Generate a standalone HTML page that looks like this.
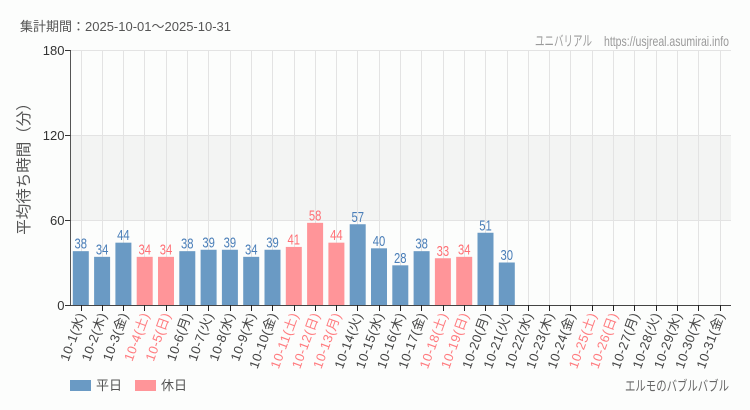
<!DOCTYPE html>
<html><head><meta charset="utf-8">
<style>
html,body{margin:0;padding:0;background:#fcfdfc;}
svg{display:block;}
text{font-family:"Liberation Sans","Noto Sans CJK JP",sans-serif;}
</style></head>
<body>
<svg width="750" height="410" viewBox="0 0 750 410" xmlns="http://www.w3.org/2000/svg">
<rect width="750" height="410" fill="#fcfdfc"/>
<text x="20" y="31" font-size="13" fill="#555">集計期間：2025-10-01〜2025-10-31</text>
<text x="535" y="46" font-size="14" fill="#9a9a9a" textLength="57" lengthAdjust="spacingAndGlyphs">ユニバリアル</text>
<text x="604" y="46" font-size="14" fill="#9a9a9a" textLength="125" lengthAdjust="spacingAndGlyphs">https://usjreal.asumirai.info</text>
<!-- band -->
<rect x="70.5" y="135" width="660.5" height="85" fill="#f3f4f3"/>
<g id="grid" stroke="#e3e3e3" stroke-width="1"></g>
<g id="bars"></g>
<g id="labels"></g>
<!-- axes -->
<line x1="70.5" y1="50" x2="70.5" y2="305.5" stroke="#555" stroke-width="1"/>
<line x1="70" y1="305.5" x2="731" y2="305.5" stroke="#444" stroke-width="1"/>
<g stroke="#333" stroke-width="1">
<line x1="65" y1="50.5" x2="70.5" y2="50.5"/>
<line x1="65" y1="135.5" x2="70.5" y2="135.5"/>
<line x1="65" y1="220.5" x2="70.5" y2="220.5"/>
<line x1="65" y1="305.5" x2="70.5" y2="305.5"/>
</g>
<g font-size="13" fill="#333" text-anchor="end">
<text x="64.5" y="55">180</text>
<text x="64.5" y="140">120</text>
<text x="64.5" y="225">60</text>
<text x="64.5" y="310">0</text>
</g>
<text transform="translate(29,165) rotate(-90)" font-size="15.5" fill="#555" text-anchor="middle">平均待ち時間（分）</text>
<g id="ticks" stroke="#222" stroke-width="1"></g>
<g id="xlabels" font-size="13"></g>
<!-- legend -->
<rect x="70" y="380" width="21" height="11" fill="#6a9ac4"/>
<text x="96" y="390" font-size="13" fill="#555">平日</text>
<rect x="135" y="380" width="21" height="11" fill="#ff9599"/>
<text x="161" y="390" font-size="13" fill="#555">休日</text>
<text x="625" y="391" font-size="14" fill="#666" textLength="104" lengthAdjust="spacingAndGlyphs">エルモのバブルバブル</text>
</svg>
<script>
(function(){
var ns="http://www.w3.org/2000/svg";
var data=[38,34,44,34,34,38,39,39,34,39,41,58,44,57,40,28,38,33,34,51,30];
var dow=["水","木","金","土","日","月","火","水","木","金","土","日","月","火","水","木","金","土","日","月","火","水","木","金","土","日","月","火","水","木","金"];
var hol={4:1,5:1,11:1,12:1,13:1,18:1,19:1,25:1,26:1};
var grid=document.getElementById("grid"),bars=document.getElementById("bars"),labels=document.getElementById("labels"),ticks=document.getElementById("ticks"),xl=document.getElementById("xlabels");
function el(n,a,p){var e=document.createElementNS(ns,n);for(var k in a)e.setAttribute(k,a[k]);p.appendChild(e);return e;}
[50.5,135.5,220.5].forEach(function(y){el("line",{x1:70.5,y1:y,x2:731,y2:y},grid);});
for(var i=0;i<31;i++){
 var cx=80.5+21.3*i, d=i+1, h=!!hol[d];
 var gx=Math.round(cx)+0.5;
 el("line",{x1:gx,y1:50,x2:gx,y2:305},grid);
 el("line",{x1:gx,y1:305,x2:gx,y2:311},ticks);
 if(i<data.length){
  var v=data[i], top=305-v*255/180;
  el("rect",{x:cx-7.7,y:top,width:16,height:305-top,fill:h?"#ff9599":"#6a9ac4"},bars);
  var t=el("text",{x:cx+0.3,y:top-2.5,"font-size":15,"text-anchor":"middle",fill:h?"#ff6f75":"#4a7eb8",textLength:12.5,lengthAdjust:"spacingAndGlyphs"},labels);
  t.textContent=String(v);
 }
 var lt=el("text",{transform:"translate("+(cx+5)+",315) rotate(-70)","text-anchor":"end",fill:h?"#ff7b7f":"#444",textLength:(d<10?50:58),lengthAdjust:"spacing"},xl);
 lt.textContent="10-"+d+"("+dow[i]+")";
}
})();
</script>
</body></html>
